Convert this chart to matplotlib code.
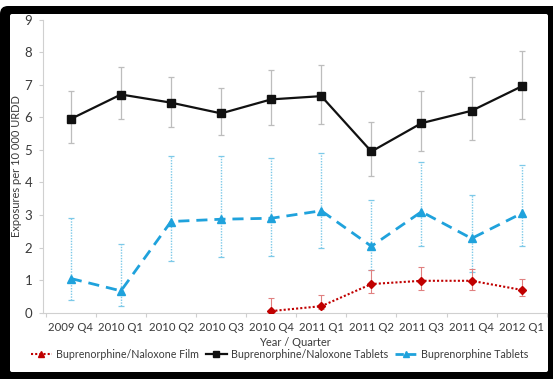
import matplotlib
matplotlib.use("Agg")
import matplotlib.pyplot as plt
from matplotlib.patches import FancyBboxPatch
from matplotlib.lines import Line2D
import numpy as np

quarters = ["2009 Q4", "2010 Q1", "2010 Q2", "2010 Q3", "2010 Q4",
            "2011 Q1", "2011 Q2", "2011 Q3", "2011 Q4", "2012 Q1"]

# Buprenorphine/Naloxone Tablets
tab_bn = [5.95, 6.7, 6.45, 6.12, 6.55, 6.65, 4.95, 5.82, 6.2, 6.95]
tab_bn_lo = [5.2, 5.95, 5.7, 5.45, 5.75, 5.8, 4.2, 4.95, 5.3, 5.95]
tab_bn_hi = [6.8, 7.55, 7.25, 6.9, 7.45, 7.6, 5.85, 6.8, 7.25, 8.05]

# Buprenorphine Tablets
tab_b = [1.05, 0.67, 2.8, 2.87, 2.9, 3.13, 2.04, 3.1, 2.28, 3.05]
tab_b_lo = [0.4, 0.2, 1.6, 1.7, 1.75, 2.0, 1.3, 2.05, 1.25, 2.05]
tab_b_hi = [2.9, 2.12, 4.82, 4.8, 4.75, 4.9, 3.45, 4.62, 3.6, 4.55]

# Buprenorphine/Naloxone Film (marketed from 2010 Q4)
film_start = 4
film = [0.05, 0.2, 0.88, 0.98, 0.98, 0.7]
film_lo = [0.0, 0.1, 0.6, 0.7, 0.7, 0.5]
film_hi = [0.45, 0.55, 1.3, 1.4, 1.35, 1.05]

y_ticks = list(range(0, 10))

BLACK = "#111111"
BLUE = "#1fa2dc"
RED = "#c00000"
TXT = "#3a3a3a"
FONT = "Lato"

W, H = 553, 379
fig = plt.figure(figsize=(W / 100, H / 100), dpi=100)
fig.patch.set_facecolor("white")

# background layer in pixel units (y grows downward) holding the black frame
bg = fig.add_axes([0, 0, 1, 1], zorder=-5)
bg.set_xlim(0, W)
bg.set_ylim(H, 0)
bg.axis("off")
bg.add_patch(FancyBboxPatch((0, 6), W + 20, H + 20,
                            boxstyle="round,pad=0,rounding_size=8",
                            facecolor="black", edgecolor="none"))
bg.add_patch(FancyBboxPatch((10, 14), 538, 358,
                            boxstyle="round,pad=0,rounding_size=2",
                            facecolor="white", edgecolor="none"))

ax = fig.add_axes([43.3 / W, 1 - 312.7 / H, 503.4 / W, (312.7 - 19.6) / H])
ax.set_facecolor("none")

x = np.arange(len(quarters))

def err(v, lo, hi):
    v = np.asarray(v)
    return [v - np.asarray(lo), np.asarray(hi) - v]

# error bars
ax.errorbar(x, tab_bn, yerr=err(tab_bn, tab_bn_lo, tab_bn_hi), fmt="none",
            ecolor="#bdbdbd", elinewidth=0.9, capsize=2, capthick=0.9, zorder=2)
eb = ax.errorbar(x, tab_b, yerr=err(tab_b, tab_b_lo, tab_b_hi), fmt="none",
                 ecolor="#7cc9e8", elinewidth=1.0, capsize=2, capthick=0.9, zorder=2)
for lc in eb[2]:
    lc.set_linestyle((0, (1, 1)))
xf = x[film_start:]
ax.errorbar(xf, film, yerr=err(film, film_lo, film_hi), fmt="none",
            ecolor="#e08080", elinewidth=0.8, capsize=2, capthick=0.8, zorder=2)

# series
ax.plot(xf, film, color=RED, linestyle=(0, (1, 1)), linewidth=1.5,
        marker="D", markersize=4.5, zorder=4)
ax.plot(x, tab_bn, color=BLACK, linewidth=1.6, marker="s", markersize=5.5, zorder=4)
ax.plot(x, tab_b, color=BLUE, linestyle=(0, (4, 2.5)), linewidth=2.0,
        marker="^", markersize=6, zorder=4)

ax.set_xlim(-0.55, 9.5)
ax.set_ylim(0, 9)
ax.set_yticks(y_ticks)
ax.set_yticklabels([str(t) for t in y_ticks], fontsize=9.5, color=TXT, family=FONT)
ax.set_xticks(x)
ax.set_xticklabels(quarters, fontsize=8.2, color=TXT, family=FONT)
ax.set_xticks(np.arange(-0.5, 10, 1), minor=True)
ax.tick_params(axis="x", which="major", length=0, pad=7)
ax.tick_params(axis="x", which="minor", length=3, color="#cfcfcf", width=0.8)
ax.tick_params(axis="y", length=3, color="#cfcfcf", width=0.8, pad=5)

for s in ["top", "right"]:
    ax.spines[s].set_visible(False)
for s in ["left", "bottom"]:
    ax.spines[s].set_color("#d0d0d0")
    ax.spines[s].set_linewidth(0.8)

ax.set_xlabel("Year / Quarter", fontsize=8, color=TXT, family=FONT)
ax.set_ylabel("Exposures per 10 000 URDD", fontsize=8, color=TXT, family=FONT)
ax.xaxis.set_label_coords(0.5, -0.083)
ax.yaxis.set_label_coords(-0.042, 0.5)

handles = [
    Line2D([], [], color=RED, linestyle=(0, (1, 1)), linewidth=1.5, marker="^",
           markersize=5),
    Line2D([], [], color=BLACK, linewidth=1.6, marker="s", markersize=5),
    Line2D([], [], color=BLUE, linestyle=(0, (3, 1.5)), linewidth=2.0, marker="^",
           markersize=5),
]
labels = ["Buprenorphine/Naloxone Film", "Buprenorphine/Naloxone Tablets",
          "Buprenorphine Tablets"]
fig.legend(handles, labels, loc="center", bbox_to_anchor=(0.505, 1 - 354 / H),
           ncol=3, frameon=False, handlelength=2.0, handletextpad=0.4,
           columnspacing=0.6, prop={"family": FONT, "size": 7.7},
           labelcolor=TXT)

fig.savefig("out.png", dpi=100, facecolor="white")
